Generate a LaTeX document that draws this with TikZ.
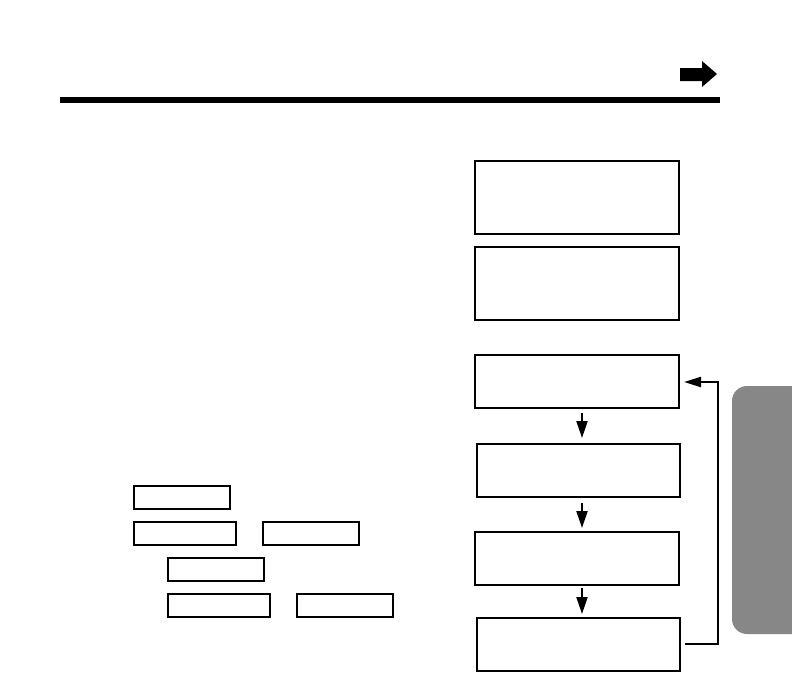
\documentclass[tikz,border=0pt]{standalone}
\usetikzlibrary{arrows.meta}
\begin{document}
\begin{tikzpicture}[x=1pt,y=-1pt,
  bigbox/.style={draw=black,line width=1.6pt},
  keybox/.style={draw=black,line width=1.5pt},
  flow/.style={line width=2.2pt,-{Triangle[length=17pt,width=11pt]}},
  loopline/.style={line width=2.2pt,-{Triangle[length=17pt,width=10pt]}}]
\useasboundingbox (0,0) rectangle (792,672);
% header rule and arrow
\fill[black] (60,97) rectangle (720,103);
\fill[black] (680,68) -- (702,68) -- (702,61) -- (717,74) -- (702,87) -- (702,81) -- (680,81) -- cycle;
% gray tab
\begin{scope}
\clip (0,0) rectangle (792,672);
\fill[black!47,rounded corners=15pt] (732,386) rectangle (840,634);
\end{scope}
% upper boxes
\node[bigbox,minimum width=204pt,minimum height=73pt,inner sep=0pt] (b1) at (577,197.5) {};
\node[bigbox,minimum width=204pt,minimum height=73pt,inner sep=0pt] (b2) at (577,283.5) {};
% flow boxes
\node[bigbox,minimum width=204pt,minimum height=53pt,inner sep=0pt] (f1) at (577,381.5) {};
\node[bigbox,minimum width=203pt,minimum height=53pt,inner sep=0pt] (f2) at (578.5,470.5) {};
\node[bigbox,minimum width=204pt,minimum height=53pt,inner sep=0pt] (f3) at (577,558.5) {};
\node[bigbox,minimum width=203pt,minimum height=53pt,inner sep=0pt] (f4) at (578.5,644.5) {};
\coordinate (a1s) at (582,413); \coordinate (a1e) at (582,438);
\coordinate (a2s) at (582,503); \coordinate (a2e) at (582,528);
\coordinate (a3s) at (582,588); \coordinate (a3e) at (582,614);
\draw[flow] (a1s) -- (a1e);
\draw[flow] (a2s) -- (a2e);
\draw[flow] (a3s) -- (a3e);
\coordinate (ls) at (685,644);
\coordinate (le) at (684,382);
\draw[loopline] (ls) -- (718,644) -- (718,382) -- (le);
% key boxes
\node[keybox,minimum width=96pt,minimum height=23pt,inner sep=0pt] (k1) at (182,497.5) {};
\node[keybox,minimum width=102pt,minimum height=23pt,inner sep=0pt] (k2) at (185,533.5) {};
\node[keybox,minimum width=96pt,minimum height=23pt,inner sep=0pt] (k3) at (311,533.5) {};
\node[keybox,minimum width=96pt,minimum height=23pt,inner sep=0pt] (k4) at (216,569.5) {};
\node[keybox,minimum width=102pt,minimum height=23pt,inner sep=0pt] (k5) at (219,605.5) {};
\node[keybox,minimum width=96pt,minimum height=23pt,inner sep=0pt] (k6) at (345,605.5) {};
\end{tikzpicture}
\end{document}
